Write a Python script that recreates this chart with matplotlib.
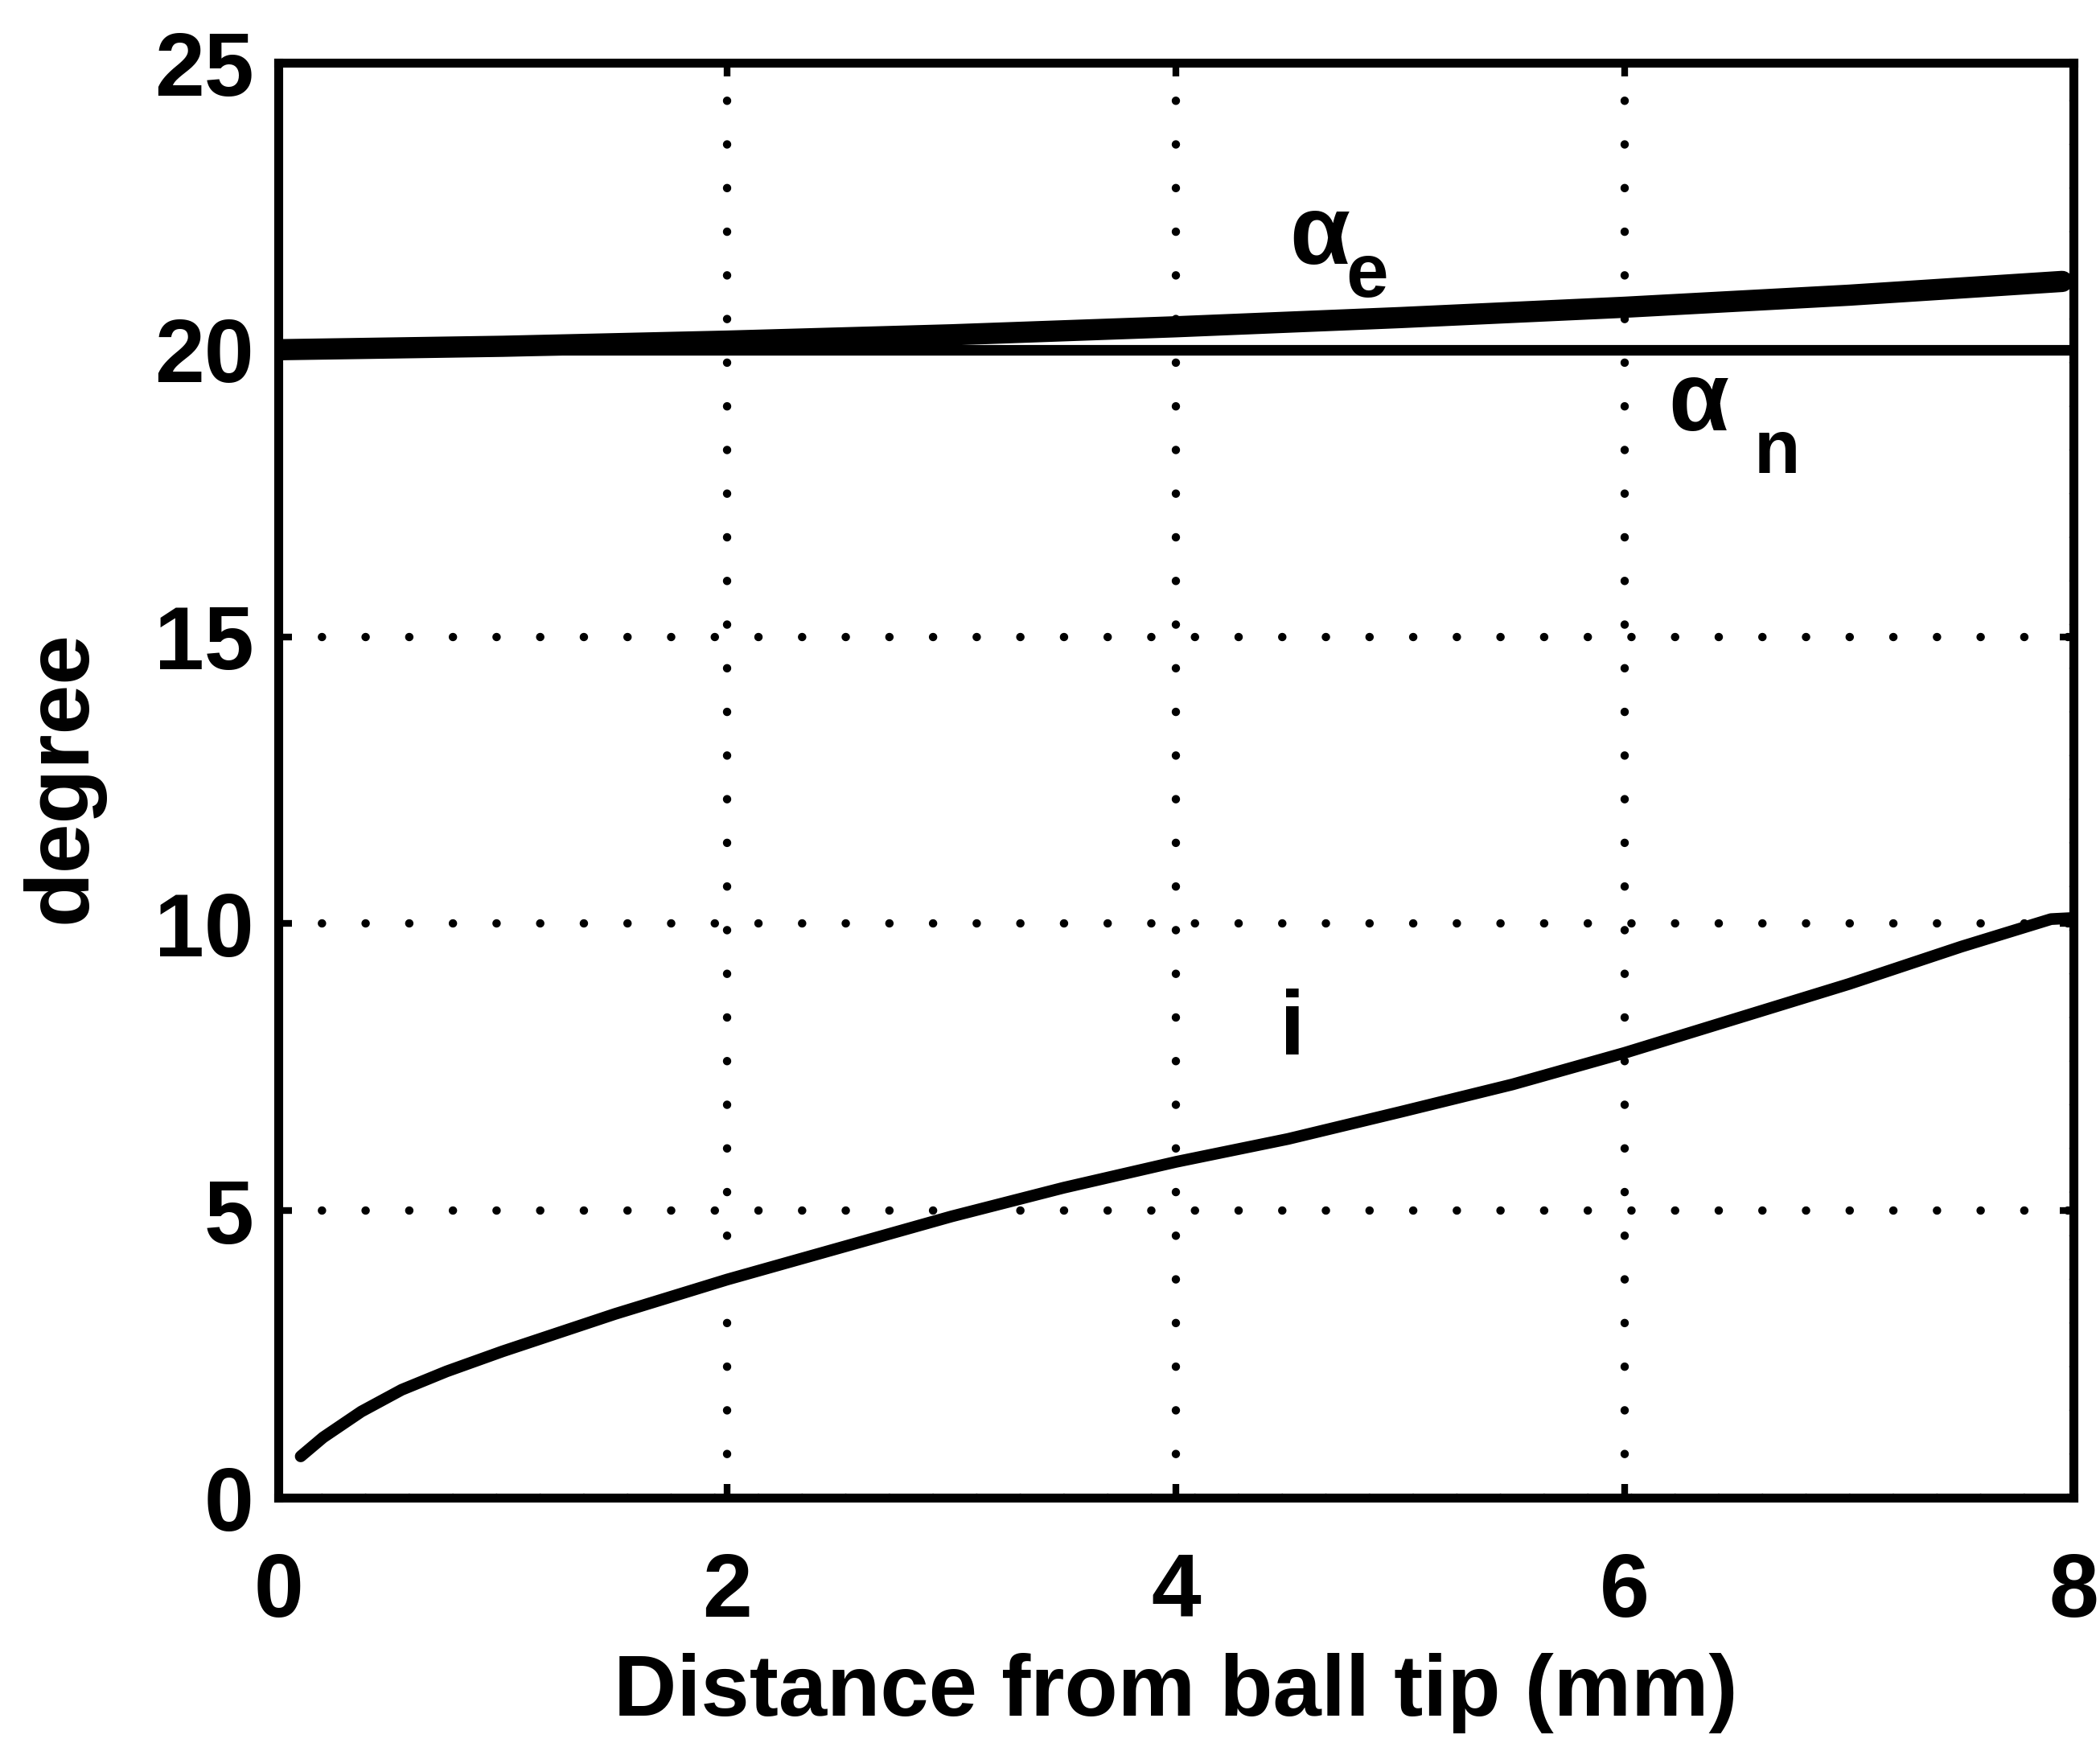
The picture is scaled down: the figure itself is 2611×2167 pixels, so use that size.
import matplotlib
matplotlib.use('Agg')
import matplotlib.pyplot as plt

# distance from ball tip (mm) and angles (degree)
x_i = [0.1, 0.2, 0.37, 0.55, 0.75, 1.0, 1.5, 2.0, 2.5, 3.0, 3.5, 4.0, 4.5,
       5.0, 5.5, 6.0, 6.5, 7.0, 7.5, 7.9, 8.0]
inc = [0.72, 1.05, 1.5, 1.88, 2.2, 2.55, 3.2, 3.8, 4.35, 4.9, 5.4, 5.85, 6.25,
       6.72, 7.2, 7.75, 8.35, 8.95, 9.6, 10.08, 10.1]

x_e = [0.0, 1.0, 2.0, 3.0, 4.0, 5.0, 6.0, 7.0, 7.95]
alpha_e = [20.0, 20.06, 20.15, 20.26, 20.4, 20.56, 20.74, 20.95, 21.19]

x_n = [0.0, 8.0]
alpha_n = [20.0, 20.0]

xticks = [0, 2, 4, 6, 8]
yticks = [0, 5, 10, 15, 20, 25]

plt.rcParams['font.family'] = ['Liberation Sans', 'DejaVu Sans']
plt.rcParams['font.weight'] = 'bold'
plt.rcParams['axes.labelweight'] = 'bold'

fig = plt.figure(figsize=(26.11, 21.67), dpi=100)
ax = fig.add_axes([346/2611, 1 - 1862/2167, (2578-346)/2611, (1862-78)/2167])

ax.plot(x_n, alpha_n, color='k', lw=9.5, solid_capstyle='butt')
ax.plot(x_e, alpha_e, color='k', lw=19, solid_capstyle='round')
ax.plot(x_i, inc, color='k', lw=10.5, solid_capstyle='round')

ax.set_xlim(0, 8)
ax.set_ylim(0, 25)
ax.set_xticks(xticks)
ax.set_yticks(yticks)

# MATLAB style dotted grid
ax.grid(True, color='k', linewidth=7.5, linestyle=(0, (0.01, 5.2)),
        dash_capstyle='round')
ax.set_axisbelow(True)

for s in ax.spines.values():
    s.set_linewidth(8)
ax.tick_params(axis='both', direction='in', length=12, width=6,
               labelsize=80, top=True, right=True)
ax.tick_params(axis='x', pad=48)
ax.tick_params(axis='y', pad=22)

ax.set_xlabel('Distance from ball tip (mm)', fontsize=78, labelpad=16)
ax.set_ylabel('degree', fontsize=80)
ax.yaxis.set_label_coords(-0.097, 0.502)

# curve labels
ax.text(4.64, 21.95, '\u03b1', fontsize=88, ha='center', va='center')
ax.text(4.85, 21.26, 'e', fontsize=68, ha='center', va='center')
ax.text(6.33, 19.05, '\u03b1', fontsize=88, ha='center', va='center')
ax.text(6.68, 18.2, 'n', fontsize=68, ha='center', va='center')
ax.text(4.52, 8.13, 'i', fontsize=82, ha='center', va='center')

fig.savefig('out.png', dpi=100)
